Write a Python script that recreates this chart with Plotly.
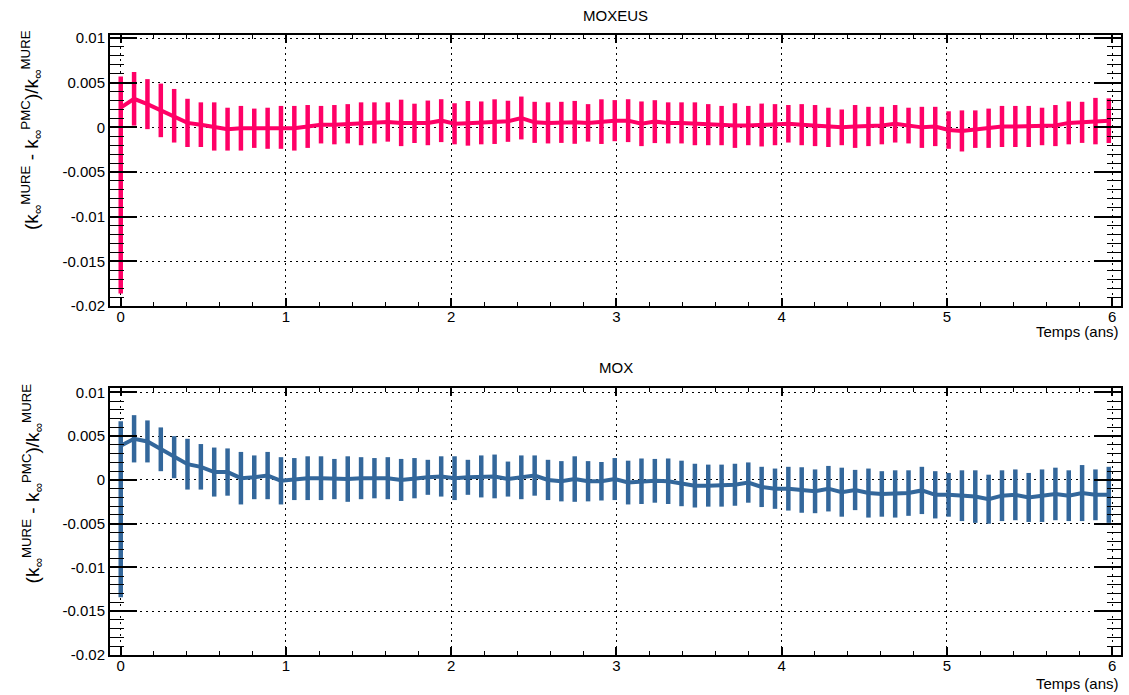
import plotly.graph_objects as go

# time grid (years) : one point every ~29.5 days
step_years = 0.0808
n_points = 75
times = [round(k * step_years, 4) for k in range(n_points)]

moxeus_val = [0.0022, 0.0032, 0.0026, 0.0019, 0.0013, 0.0005, 0.0003, 0.0001, -0.0002, -0.0001,
              -0.0001, -0.0001, 0.0000, -0.0001, 0.0001, 0.0003, 0.0003, 0.0004, 0.0004, 0.0005,
              0.0006, 0.0005, 0.00045, 0.0005, 0.00075, 0.0004, 0.00045, 0.0005, 0.00064, 0.00068,
              0.00105, 0.00056, 0.0005, 0.00056, 0.00056, 0.0005, 0.00064, 0.00075, 0.00075, 0.0004,
              0.00064, 0.0005, 0.0005, 0.0004, 0.0003, 0.0002, 0.0002, 0.0002, 0.00026, 0.0003,
              0.0004, 0.0003, 0.0002, 0.0000, 0.0000, 0.0001, 0.0001, 0.0002, 0.0004, 0.0002,
              0.0000, 0.0001, -0.0003, -0.0004, -0.0002, -0.0001, 0.0001, 0.0001, 0.0001, 0.0001,
              0.0002, 0.0005, 0.00056, 0.0007, 0.00075]
moxeus_err = [0.0035, 0.0030, 0.0028, 0.0030, 0.0030, 0.0027, 0.0025, 0.0027, 0.0024, 0.0025,
              0.0022, 0.0023, 0.0024, 0.0025, 0.0024, 0.0021, 0.0022, 0.0022, 0.0024, 0.0023,
              0.0022, 0.0026, 0.0022, 0.0025, 0.0024, 0.0023, 0.0025, 0.0024, 0.0025, 0.0023,
              0.0024, 0.0023, 0.0023, 0.0023, 0.0024, 0.0021, 0.0025, 0.0023, 0.0024, 0.0025,
              0.0024, 0.0023, 0.0023, 0.0024, 0.0023, 0.0022, 0.0025, 0.0022, 0.0024, 0.0023,
              0.0021, 0.0023, 0.0023, 0.0022, 0.0020, 0.0024, 0.0022, 0.0021, 0.0021, 0.0020,
              0.0023, 0.0022, 0.0021, 0.0023, 0.0021, 0.0022, 0.0023, 0.0023, 0.0023, 0.0021,
              0.0023, 0.0024, 0.0023, 0.0026, 0.0025]
moxeus_err_minus = [0.0208] + moxeus_err[1:]

mox_val = [0.0039, 0.0047, 0.0044, 0.0035, 0.0026, 0.0018, 0.0015, 0.0009, 0.0009, 0.0002,
           0.0003, 0.0005, -0.0001, 0.0001, 0.0002, 0.0002, 0.0001, 0.0001, 0.0002, 0.0002,
           0.0002, 0.0000, 0.0002, 0.0003, 0.0004, 0.0002, 0.0003, 0.0004, 0.0004, 0.0001,
           0.0003, 0.0005, 0.0000, -0.00015, 0.0001, -0.00015, -0.00015, 0.0001, -0.0003, -0.00015,
           -0.0001, -0.00015, -0.0004, -0.00065, -0.00065, -0.00065, -0.00055, -0.0003, -0.0008, -0.0010,
           -0.0010, -0.00115, -0.0013, -0.0010, -0.0014, -0.00115, -0.0015, -0.0016, -0.0016, -0.0015,
           -0.0012, -0.0017, -0.0017, -0.0018, -0.0019, -0.0022, -0.0018, -0.0017, -0.0020, -0.0018,
           -0.0016, -0.0018, -0.0015, -0.0017, -0.0017]
mox_err = [0.0028, 0.0027, 0.0024, 0.0025, 0.0024, 0.0029, 0.0026, 0.0028, 0.0027, 0.0030,
           0.0025, 0.0027, 0.0027, 0.0024, 0.0025, 0.0025, 0.0023, 0.0026, 0.0024, 0.0023,
           0.0024, 0.0024, 0.0023, 0.0020, 0.0023, 0.0025, 0.0020, 0.0024, 0.0025, 0.0020,
           0.0025, 0.0023, 0.0023, 0.0023, 0.0026, 0.0023, 0.0022, 0.0024, 0.0025, 0.0026,
           0.0025, 0.0026, 0.0026, 0.0025, 0.0024, 0.0024, 0.0024, 0.0023, 0.0023, 0.0023,
           0.0025, 0.0026, 0.0025, 0.0026, 0.0028, 0.0023, 0.0028, 0.0026, 0.0027, 0.0026,
           0.0027, 0.0027, 0.0025, 0.0029, 0.0030, 0.0028, 0.0029, 0.0029, 0.0028, 0.0030,
           0.0030, 0.0029, 0.0032, 0.0029, 0.0032]
mox_err_minus = [0.0173] + mox_err[1:]

titles = ["MOXEUS", "MOX"]
x_ticks = [0, 1, 2, 3, 4, 5, 6]
x_ticktext = ["0", "1", "2", "3", "4", "5", "6"]
y_ticks = [0.01, 0.005, 0, -0.005, -0.01, -0.015, -0.02]
y_ticktext = ["0.01", "0.005", "0", "-0.005", "-0.01", "-0.015", "-0.02"]
x_title = "Temps (ans)"
y_title = ("(k<sub>∞</sub><sup>MURE</sup> - k<sub>∞</sub><sup>PMC</sup>)"
           "/k<sub>∞</sub><sup>MURE</sup>")

pink = "#ff0066"
blue = "#33679b"
FONT = "Liberation Sans, Arial, sans-serif"

fig = go.Figure()
for i, (vals, ep, em, col) in enumerate([(moxeus_val, moxeus_err, moxeus_err_minus, pink),
                                          (mox_val, mox_err, mox_err_minus, blue)]):
    suffix = "" if i == 0 else "2"
    fig.add_trace(go.Scatter(
        x=times, y=vals, mode="lines",
        line=dict(color=col, width=4),
        error_y=dict(type="data", array=ep, arrayminus=em, symmetric=False,
                     thickness=4.5, width=0, color=col),
        xaxis="x" + suffix, yaxis="y" + suffix, showlegend=False,
    ))

common_x = dict(
    range=[-0.065, 6.053], tickmode="array", tickvals=x_ticks, ticktext=x_ticktext,
    showline=True, linecolor="black", linewidth=2, mirror="allticks",
    ticks="inside", ticklen=8, tickwidth=1.5, tickcolor="black",
    minor=dict(tick0=0, dtick=0.2, ticks="inside", ticklen=4, tickwidth=1, tickcolor="black", showgrid=False),
    showgrid=True, gridcolor="black", gridwidth=1, griddash="2px,4px",
    zeroline=False, automargin=False, ticklabelstandoff=-4,
    tickfont=dict(family=FONT, size=15, color="black"),
)
common_y = dict(
    tickmode="array", tickvals=y_ticks, ticktext=y_ticktext,
    showline=True, linecolor="black", linewidth=2, mirror="allticks",
    ticks="inside", ticklen=27, tickwidth=1.5, tickcolor="black",
    minor=dict(tick0=0, dtick=0.001, ticks="inside", ticklen=14, tickwidth=1, tickcolor="black", showgrid=False),
    showgrid=True, gridcolor="black", gridwidth=1, griddash="2px,4px",
    zeroline=False, automargin=False, tickfont=dict(family=FONT, size=15, color="black"),
)

fig.update_layout(
    width=1129, height=695,
    margin=dict(l=110, r=8, t=35, b=40, pad=0),
    paper_bgcolor="white", plot_bgcolor="white",
    xaxis=dict(common_x, domain=[0, 1], anchor="y"),
    yaxis=dict(common_y, domain=[0.5629, 1], range=[-0.02, 0.01034], anchor="x"),
    xaxis2=dict(common_x, domain=[0, 1], anchor="y2"),
    yaxis2=dict(common_y, domain=[0, 0.4306], range=[-0.02, 0.0105], anchor="x2"),
    font=dict(family=FONT, color="black"),
)

annotations = [
    dict(text=titles[0], x=0.5, y=1.032, xref="paper", yref="paper", showarrow=False,
         xanchor="center", yanchor="middle", font=dict(family=FONT, size=15)),
    dict(text=titles[1], x=0.5, y=0.4645, xref="paper", yref="paper", showarrow=False,
         xanchor="center", yanchor="middle", font=dict(family=FONT, size=15)),
    dict(text=x_title, x=1.0, y=0.522, xref="paper", yref="paper", showarrow=False,
         xanchor="right", yanchor="middle", font=dict(family=FONT, size=15)),
    dict(text=x_title, x=1.0, y=-0.046, xref="paper", yref="paper", showarrow=False,
         xanchor="right", yanchor="middle", font=dict(family=FONT, size=15)),
    dict(text=y_title, x=-0.077, y=0.847, xref="paper", yref="paper", showarrow=False,
         textangle=-90, xanchor="center", yanchor="middle", font=dict(family=FONT, size=19)),
    dict(text=y_title, x=-0.077, y=0.277, xref="paper", yref="paper", showarrow=False,
         textangle=-90, xanchor="center", yanchor="middle", font=dict(family=FONT, size=19)),
]
fig.update_layout(annotations=annotations)

fig.write_html("out.html", config={"displayModeBar": False},
               post_script="document.body.style.margin='0';document.body.style.overflow='hidden';")
